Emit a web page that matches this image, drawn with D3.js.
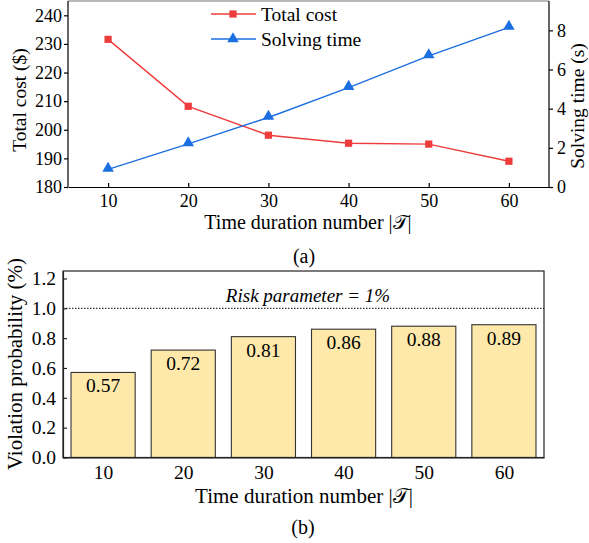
<!DOCTYPE html>
<html><head><meta charset="utf-8">
<script src="https://cdn.jsdelivr.net/npm/d3@7"></script>
</head>
<body style="margin:0;background:#fff">
<svg id="c" width="589" height="543"></svg>
<script>
const durations = [10, 20, 30, 40, 50, 60];
const totalCost = [231.6, 208.2, 198.1, 195.3, 195.0, 189.0];
const solvingTime = [0.9, 2.2, 3.55, 5.08, 6.7, 8.15];
const violationProb = [0.57, 0.72, 0.81, 0.86, 0.88, 0.89];
const costTicks = [180, 190, 200, 210, 220, 230, 240];
const timeTicks = [0, 2, 4, 6, 8];
const probTicks = [0, 0.2, 0.4, 0.6, 0.8, 1.0, 1.2];
const riskLevel = 1.0;

const FONT = '"Liberation Serif"';
const svg = d3.select("#c");
const red = "#ee3b3b", blue = "#1c6fe0";
function txt(sel, size) { return sel.style("font-family", FONT).style("font-size", size + "px").attr("fill", "#000"); }

// ---------- (a) ----------
const xA = d3.scaleLinear().domain([5, 65]).range([68, 549]);
const yL = d3.scaleLinear().domain([180, 245]).range([187, 1]);
const yR = d3.scaleLinear().domain([0, 9.5]).range([187, 1]);

const gA = svg.append("g");
gA.append("line").attr("x1", 68).attr("x2", 549).attr("y1", 1).attr("y2", 1)
  .attr("stroke", "#777").attr("stroke-width", 1.2);

const axL = gA.append("g").attr("transform", "translate(68,0)")
  .call(d3.axisLeft(yL).tickValues(costTicks).tickSize(4).tickPadding(2));
const axR = gA.append("g").attr("transform", "translate(549,0)")
  .call(d3.axisRight(yR).tickValues(timeTicks).tickSize(4).tickPadding(4).tickFormat(d3.format("d")));
const axB = gA.append("g").attr("transform", "translate(0,187)")
  .call(d3.axisBottom(xA).tickValues(durations).tickSizeInner(-4).tickSizeOuter(0).tickPadding(7));
[axL, axR, axB].forEach(a => {
  a.attr("font-family", FONT);
  txt(a.selectAll("text"), 18);
  a.selectAll("path,line").attr("stroke", "#000").attr("stroke-width", 1.2);
});
axL.select(".domain").attr("d", "M0,1V187");
axR.select(".domain").attr("d", "M0,1V187");

const lineC = d3.line().x((d, i) => xA(durations[i])).y(d => yL(d));
const lineT = d3.line().x((d, i) => xA(durations[i])).y(d => yR(d));
gA.append("path").attr("d", lineC(totalCost)).attr("fill", "none").attr("stroke", red).attr("stroke-width", 1.4);
gA.append("path").attr("d", lineT(solvingTime)).attr("fill", "none").attr("stroke", blue).attr("stroke-width", 1.4);
const sq = d3.symbol().type(d3.symbolSquare).size(52);
const tri = d3.symbol().type(d3.symbolTriangle).size(58);
gA.selectAll(".sq").data(totalCost).enter().append("path")
  .attr("d", sq).attr("fill", red)
  .attr("transform", (d, i) => `translate(${xA(durations[i])},${yL(d)})`);
gA.selectAll(".tr").data(solvingTime).enter().append("path")
  .attr("d", tri).attr("fill", blue)
  .attr("transform", (d, i) => `translate(${xA(durations[i])},${yR(d) - 1})`);

// legend
const leg = [{t: "Total cost", c: red, s: sq, y: 14}, {t: "Solving time", c: blue, s: tri, y: 39}];
leg.forEach(l => {
  gA.append("line").attr("x1", 211).attr("x2", 256).attr("y1", l.y).attr("y2", l.y)
    .attr("stroke", l.c).attr("stroke-width", 1.4);
  gA.append("path").attr("d", l.s).attr("fill", l.c).attr("transform", `translate(233,${l.y})`);
  txt(gA.append("text").attr("x", 261).attr("y", l.y + 6.5), 19.5).text(l.t);
});

txt(gA.append("text").attr("transform", "translate(26,100) rotate(-90)").attr("text-anchor", "middle"), 19.5).text("Total cost ($)");
txt(gA.append("text").attr("transform", "translate(584,106) rotate(-90)").attr("text-anchor", "middle"), 19.5).text("Solving time (s)");
txt(gA.append("text").attr("x", 308).attr("y", 229).attr("text-anchor", "middle"), 20).text("Time duration number |𝒯|");
txt(gA.append("text").attr("x", 304).attr("y", 263).attr("text-anchor", "middle"), 20).text("(a)");

// ---------- (b) ----------
const xB = d3.scaleLinear().domain([5, 65]).range([63, 544]);
const yB = d3.scaleLinear().domain([0, 1.25]).range([457.5, 271]);
const gB = svg.append("g");
const bw = xB(14) - xB(6);
gB.selectAll(".bar").data(violationProb).enter().append("rect")
  .attr("x", (d, i) => xB(durations[i]) - bw / 2)
  .attr("y", d => yB(d)).attr("width", bw).attr("height", d => yB(0) - yB(d))
  .attr("fill", "#fee9aa").attr("stroke", "#333").attr("stroke-width", 1.1);
txt(gB.selectAll(".bl").data(violationProb).enter().append("text")
  .attr("x", (d, i) => xB(durations[i])).attr("y", d => yB(d) + 20)
  .attr("text-anchor", "middle"), 19.5).text(d => d.toFixed(2));

gB.append("line").attr("x1", 63).attr("x2", 544).attr("y1", yB(riskLevel)).attr("y2", yB(riskLevel))
  .attr("stroke", "#000").attr("stroke-width", 1).attr("stroke-dasharray", "1.5,1.5");
txt(gB.append("text").attr("x", 308).attr("y", 302).attr("text-anchor", "middle"), 19)
  .style("font-style", "italic").text("Risk parameter = 1%");

gB.append("rect").attr("x", 63).attr("y", 271).attr("width", 481).attr("height", 186.5)
  .attr("fill", "none").attr("stroke", "#222").attr("stroke-width", 1.2);
const axBL = gB.append("g").attr("transform", "translate(63,0)")
  .call(d3.axisLeft(yB).tickValues(probTicks).tickSizeInner(-4).tickSizeOuter(0).tickPadding(7).tickFormat(d3.format(".1f")));
const axBB = gB.append("g").attr("transform", "translate(0,457.5)")
  .call(d3.axisBottom(xB).tickValues(durations).tickSize(0).tickPadding(8));
[axBL, axBB].forEach(a => {
  a.attr("font-family", FONT);
  txt(a.selectAll("text"), 19.5);
  a.selectAll("path,line").attr("stroke", "#222").attr("stroke-width", 1.2);
});
txt(gB.append("text").attr("transform", "translate(22,364) rotate(-90)").attr("text-anchor", "middle"), 21).text("Violation probability (%)");
txt(gB.append("text").attr("x", 304).attr("y", 503).attr("text-anchor", "middle"), 21).text("Time duration number |𝒯|");
txt(gB.append("text").attr("x", 303).attr("y", 534).attr("text-anchor", "middle"), 20).text("(b)");
</script>
</body></html>
